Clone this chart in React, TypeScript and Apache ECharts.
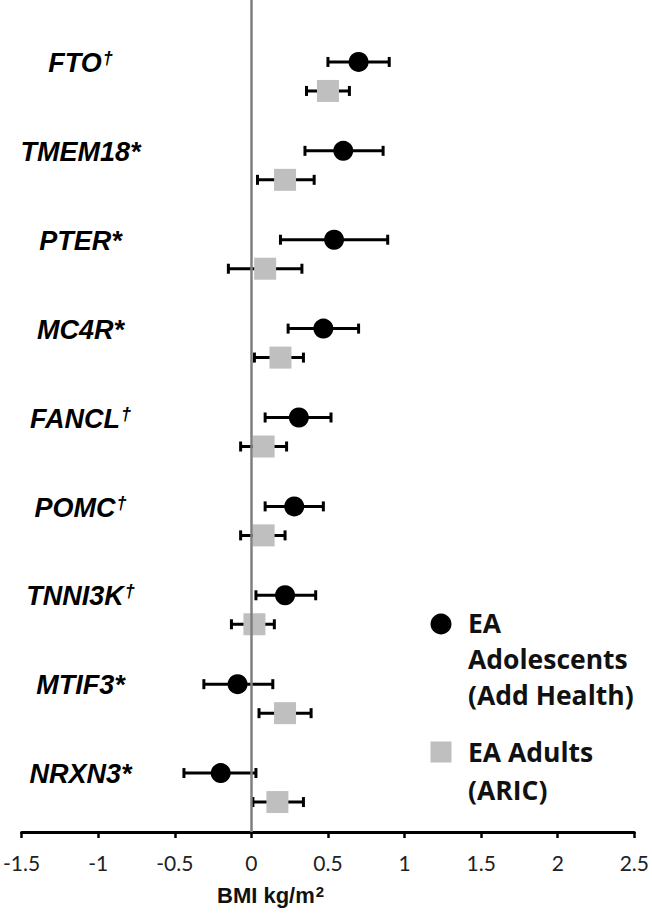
import React, { useEffect, useRef } from "react";
import * as echarts from "echarts";

const genes = ["FTO", "TMEM18", "PTER", "MC4R", "FANCL", "POMC", "TNNI3K", "MTIF3", "NRXN3"];
const marks = ["†", "*", "*", "*", "†", "†", "†", "*", "*"];

const adolEst = [0.70, 0.60, 0.54, 0.47, 0.31, 0.28, 0.22, -0.09, -0.20];
const adolLow = [0.50, 0.35, 0.19, 0.24, 0.09, 0.09, 0.03, -0.31, -0.44];
const adolHigh = [0.90, 0.86, 0.89, 0.70, 0.52, 0.47, 0.42, 0.14, 0.03];

const adultEst = [0.50, 0.22, 0.09, 0.19, 0.08, 0.08, 0.02, 0.22, 0.17];
const adultLow = [0.36, 0.04, -0.15, 0.02, -0.07, -0.07, -0.13, 0.05, 0.01];
const adultHigh = [0.64, 0.41, 0.33, 0.34, 0.23, 0.22, 0.15, 0.39, 0.34];

const xMin = -1.5;
const xMax = 2.5;
const xStep = 0.5;

const seriesNames = ["EA Adolescents (Add Health)", "EA Adults (ARIC)"];
const legendLines = [
  "EA\nAdolescents\n(Add Health)",
  "EA Adults\n(ARIC)",
];
const axisTitleMain = "BMI kg/m";
const axisTitleSup = "2";

function makeRender(offset: number, kind: "circle" | "square") {
  return (params: any, api: any) => {
    const est = api.value(0);
    const lo = api.value(1);
    const hi = api.value(2);
    const row = api.value(3);
    const c = api.coord([est, row]);
    const l = api.coord([lo, row]);
    const h = api.coord([hi, row]);
    const y = c[1] + offset;
    const capH = 5;
    const lineStyle = { stroke: "#000", lineWidth: 3 };
    const marker =
      kind === "circle"
        ? { type: "circle", shape: { cx: c[0], cy: y, r: 10 }, style: { fill: "#000" } }
        : { type: "rect", shape: { x: c[0] - 11, y: y - 11, width: 22, height: 22 }, style: { fill: "#bfbfbf" } };
    return {
      type: "group",
      children: [
        { type: "line", shape: { x1: l[0], y1: y, x2: h[0], y2: y }, style: lineStyle },
        { type: "line", shape: { x1: l[0], y1: y - capH, x2: l[0], y2: y + capH }, style: lineStyle },
        { type: "line", shape: { x1: h[0], y1: y - capH, x2: h[0], y2: y + capH }, style: lineStyle },
        marker,
      ],
    };
  };
}

export default function App() {
  const ref = useRef<HTMLDivElement>(null);
  useEffect(() => {
    if (!ref.current) return;
    const chart = echarts.init(ref.current, undefined, { renderer: "svg" });
    const adolData = adolEst.map((v, i) => [v, adolLow[i], adolHigh[i], i]);
    const adultData = adultEst.map((v, i) => [v, adultLow[i], adultHigh[i], i]);
    const labelFont = "'Liberation Sans', Arial, sans-serif";
    const legendFont = "'Open Sans', 'Noto Sans', sans-serif";
    chart.setOption({
      animation: false,
      backgroundColor: "#fff",
      grid: { left: 20, right: 17, top: 0, bottom: 83, containLabel: false },
      xAxis: {
        type: "value",
        min: xMin,
        max: xMax,
        interval: xStep,
        axisLine: { show: true, onZero: false, lineStyle: { color: "#000", width: 3 } },
        axisTick: { show: true, length: 6, lineStyle: { color: "#000", width: 2.5 } },
        splitLine: { show: false },
        axisLabel: {
          margin: 20,
          fontSize: 21,
          color: "#222",
          fontFamily: "Lato, 'Open Sans', sans-serif",
        },
      },
      yAxis: {
        type: "value",
        inverse: true,
        min: -0.86,
        max: 8.5,
        axisLine: { show: false },
        axisTick: { show: false },
        splitLine: { show: false },
        axisLabel: {
          inside: true,
          margin: 59,
          align: "center",
          customValues: genes.map((_, i) => i - 0.15),
          formatter: (v: number) => {
            const i = Math.round(v + 0.15);
            const m = marks[i];
            return m === "†" ? `{g|${genes[i]}}{d|${m}}` : `{g|${genes[i]}${m}}`;
          },
          rich: {
            g: {
              fontFamily: labelFont,
              fontWeight: "bold",
              fontStyle: "italic",
              fontSize: 27,
              color: "#000",
            },
            d: {
              fontFamily: labelFont,
              fontWeight: "bold",
              fontStyle: "italic",
              fontSize: 18,
              color: "#000",
              verticalAlign: "top",
              padding: [0, 0, 10, 1],
            },
          },
        },
      },
      series: [
        {
          type: "line",
          data: [],
          silent: true,
          z: 1,
          markLine: {
            silent: true,
            symbol: ["none", "none"],
            label: { show: false },
            lineStyle: { color: "#7f7f7f", width: 2.5, type: "solid" },
            data: [{ xAxis: 0 }],
          },
        },
        {
          name: seriesNames[0],
          type: "custom",
          z: 3,
          renderItem: makeRender(-14.5, "circle"),
          encode: { x: [0, 1, 2], y: 3 },
          data: adolData,
        },
        {
          name: seriesNames[1],
          type: "custom",
          z: 3,
          renderItem: makeRender(14.5, "square"),
          encode: { x: [0, 1, 2], y: 3 },
          data: adultData,
        },
      ],
      graphic: [
        {
          type: "text",
          x: 217,
          y: 884,
          style: {
            text: `{m|${axisTitleMain}}{s|${axisTitleSup}}`,
            rich: {
              m: {
                fontFamily: labelFont,
                fontWeight: "bold",
                fontSize: 22,
                fill: "#111",
              },
              s: {
                fontFamily: labelFont,
                fontWeight: "bold",
                fontSize: 15,
                fill: "#111",
                verticalAlign: "top",
                padding: [0, 0, 8, 1],
              },
            },
          },
        },
        {
          type: "circle",
          shape: { cx: 441, cy: 624, r: 10.5 },
          style: { fill: "#000" },
        },
        {
          type: "text",
          x: 468,
          y: 605,
          style: {
            text: legendLines[0],
            fontFamily: legendFont,
            fontWeight: "bold",
            fontSize: 26.5,
            lineHeight: 36,
            fill: "#111",
          },
        },
        {
          type: "rect",
          shape: { x: 430.5, y: 741.5, width: 21, height: 21 },
          style: { fill: "#bfbfbf" },
        },
        {
          type: "text",
          x: 468,
          y: 733,
          style: {
            text: legendLines[1],
            fontFamily: legendFont,
            fontWeight: "bold",
            fontSize: 26.5,
            lineHeight: 38,
            fill: "#111",
          },
        },
      ],
    });
    return () => chart.dispose();
  }, []);
  return (
    <div
      ref={ref}
      style={{ position: "absolute", left: 0, top: 0, width: 652, height: 915 }}
    />
  );
}
